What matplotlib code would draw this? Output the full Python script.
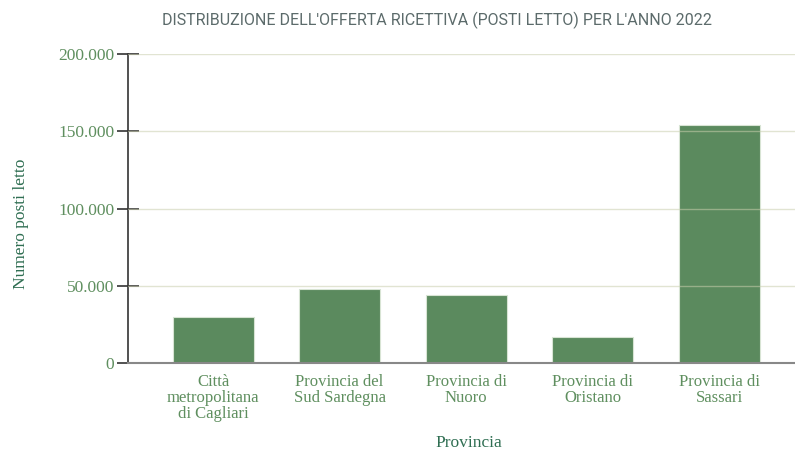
import matplotlib.pyplot as plt
from matplotlib.ticker import FuncFormatter

# Posti letto per provincia, anno 2022
province = ['Città\nmetropolitana\ndi Cagliari', 'Provincia del\nSud Sardegna',
            'Provincia di\nNuoro', 'Provincia di\nOristano', 'Provincia di\nSassari']
posti_letto = [30200, 48100, 44400, 17200, 154000]
y_ticks = [0, 50000, 100000, 150000, 200000]

bar_color = '#5b8a5e'
tick_color = '#5f8f5f'
label_color = '#2f6e52'
grid_color = '#c9cfae'

fig = plt.figure(figsize=(7.95, 4.54), dpi=100)
ax = fig.add_axes([0.161, 0.2, 0.839, 0.681])

x = range(len(province))
ax.bar(x, posti_letto, width=0.64, color=bar_color, edgecolor='#d8e4d4',
       linewidth=0.8, zorder=2)

ax.set_ylim(0, 200000)
ax.set_xlim(-0.673, 4.6)
ax.set_yticks(y_ticks)
ax.yaxis.set_major_formatter(FuncFormatter(lambda v, p: f'{int(v):,}'.replace(',', '.')))
ax.set_xticks(list(x))
ax.set_xticklabels(province)

# grid lines sit above the bars, faint
for t in y_ticks[1:]:
    ax.axhline(t, color=grid_color, linewidth=1, alpha=0.55, zorder=3)

for side in ['top', 'right']:
    ax.spines[side].set_visible(False)
ax.spines['left'].set_color('#333333')
ax.spines['left'].set_linewidth(1.2)
ax.spines['bottom'].set_color('#888888')
ax.spines['bottom'].set_linewidth(1.5)
ax.spines['bottom'].set_zorder(4)

serif = 'Liberation Serif'
ax.tick_params(axis='y', direction='inout', length=16, width=1.2, color='#333333',
               labelcolor=tick_color, labelsize=12.5, pad=2)
ax.tick_params(axis='x', length=0, labelcolor=tick_color, labelsize=12, pad=8)
for lab in ax.get_yticklabels() + ax.get_xticklabels():
    lab.set_fontfamily(serif)
for lab in ax.get_xticklabels():
    lab.set_linespacing(1.0)

fig.text(0.027, 0.507, 'Numero posti letto', rotation=90, ha='center', va='center',
         fontsize=12.5, color=label_color, fontfamily=serif)
fig.text(0.59, 0.024, 'Provincia', ha='center', va='center',
         fontsize=12.5, color=label_color, fontfamily=serif)
fig.text(0.55, 0.955, "DISTRIBUZIONE DELL'OFFERTA RICETTIVA (POSTI LETTO) PER L'ANNO 2022",
         ha='center', va='center', fontsize=11.5, color='#5c6b6b', fontfamily='Roboto')

fig.savefig('out.png', dpi=100)
